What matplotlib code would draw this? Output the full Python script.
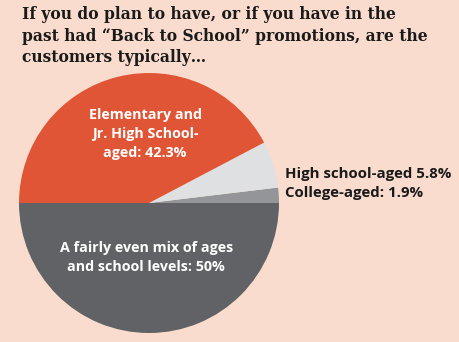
import matplotlib
matplotlib.use("Agg")
import matplotlib.pyplot as plt

# customer age breakdown for back-to-school promotions (percent)
categories = ["College-aged", "High school-aged",
              "Elementary and Jr. High School-aged",
              "A fairly even mix of ages and school levels"]
shares = [1.9, 5.8, 42.3, 50.0]
colors = ["#939598", "#dfe0e1", "#df5535", "#616265"]

bg = "#f9dccd"
W, H = 460, 342

fig = plt.figure(figsize=(W / 100, H / 100), dpi=100, facecolor=bg)

# pie centred at (149, 203) px from the top-left, radius 130 px
cx, cy, r = 149, 203, 130
ax = fig.add_axes([(cx - r) / W, (H - cy - r) / H, 2 * r / W, 2 * r / H])
ax.set_facecolor(bg)
ax.pie(shares, colors=colors, startangle=0, counterclock=True,
       radius=1, wedgeprops=dict(linewidth=0))
ax.set_xlim(-1, 1)
ax.set_ylim(-1, 1)
ax.set_aspect("equal")
ax.axis("off")

label_font = dict(family=["Open Sans", "DejaVu Sans"], fontweight="bold",
                  fontsize=10.3)

ax.text(-0.03, 0.53,
        "Elementary and\nJr. High School-\naged: %.1f%%" % shares[2],
        color="white", ha="center", va="center", linespacing=1.42,
        **label_font)
ax.text(-0.02, -0.42,
        "A fairly even mix of ages\nand school levels: %g%%" % shares[3],
        color="white", ha="center", va="center", linespacing=1.42,
        **label_font)
ax.text(1.05, 0.225, "High school-aged %.1f%%" % shares[1],
        color="#1a1a1a", ha="left", va="center", clip_on=False,
        family=["Open Sans", "DejaVu Sans"], fontweight="bold", fontsize=10.8)
ax.text(1.05, 0.075, "College-aged: %.1f%%" % shares[0],
        color="#1a1a1a", ha="left", va="center", clip_on=False,
        family=["Open Sans", "DejaVu Sans"], fontweight="bold", fontsize=10.8)

fig.text(22 / W, 1 - 6 / H,
         "If you do plan to have, or if you have in the\n"
         "past had \u201cBack to School\u201d promotions, are the\n"
         "customers typically\u2026",
         ha="left", va="top", family="DejaVu Serif", fontweight="bold",
         fontsize=11.2, color="#1a1a1a", linespacing=1.35)

fig.savefig("out.png", dpi=100, facecolor=bg)
